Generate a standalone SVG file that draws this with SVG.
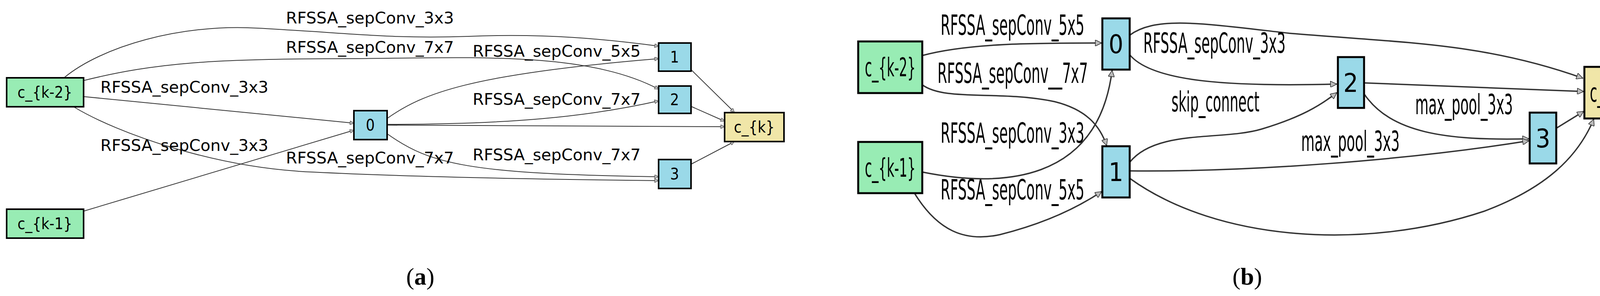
<svg xmlns="http://www.w3.org/2000/svg" width="4198" height="757" viewBox="0 0 4198 757">
<style>
.in{fill:#98ecb4;stroke:#000}
.op{fill:#9ad9e8;stroke:#000}
.out{fill:#f0e6a8;stroke:#000}
.a rect{stroke-width:4}
.b rect{stroke-width:5}
.e path{fill:none;stroke:#333}
.ea path{stroke-width:2}
.eb path{stroke-width:3.5}
.t{font-family:"DejaVu Sans Condensed","DejaVu Sans",sans-serif;fill:#000}
.la{font-size:40px}
.lb{font-size:72px}
.na{font-size:40px;text-anchor:middle}
.nb{font-size:66px;text-anchor:middle}
.cap{font-family:"Liberation Serif",serif;font-size:62px;text-anchor:middle}
</style>
<defs>
<marker id="ar" viewBox="0 0 10 10" refX="10" refY="5" markerWidth="12" markerHeight="10" markerUnits="userSpaceOnUse" orient="auto"><path d="M0,0L10,5L0,10z" fill="#bbb" stroke="#333" stroke-width="1"/></marker>
<marker id="br" viewBox="0 0 10 10" refX="10" refY="5" markerWidth="20" markerHeight="16" markerUnits="userSpaceOnUse" orient="auto"><path d="M0,0L10,5L0,10z" fill="#bbb" stroke="#333" stroke-width="1"/></marker>
</defs>
<rect width="4198" height="757" fill="#fff"/>
<g id="connectors">
<g class="e ea" marker-end="url(#ar)">
<path d="M165,198 C260,120 460,60 660,72 C900,85 1000,100 1200,93 C1400,85 1550,100 1686,118"/>
<path d="M214,206 C400,160 550,150 900,150 C1200,148 1500,130 1686,228"/>
<path d="M214,247 L906,315"/>
<path d="M214,540 L906,333"/>
<path d="M190,274 C300,340 550,430 800,440 C1100,455 1500,460 1686,462"/>
<path d="M991,303 C1080,240 1200,190 1686,150"/>
<path d="M991,318 C1300,318 1500,300 1686,258"/>
<path d="M991,320 L1855,324"/>
<path d="M991,342 C1100,420 1200,445 1686,452"/>
<path d="M1769,178 L1880,287"/>
<path d="M1769,272 L1855,310"/>
<path d="M1769,420 L1880,362"/>
</g>
<g class="e eb" marker-end="url(#br)">
<path d="M2361,142 C2480,110 2650,110 2820,110"/>
<path d="M2361,217 C2420,260 2560,230 2700,260 C2780,280 2815,320 2833,372"/>
<path d="M2361,440 C2560,480 2810,470 2847,180"/>
<path d="M2341,494 C2400,590 2470,620 2560,600 C2680,570 2760,530 2820,490"/>
<path d="M2892,90 C2960,40 3080,60 3300,85 C3600,110 3800,110 4052,200"/>
<path d="M2892,140 C2950,210 3150,222 3422,215"/>
<path d="M3492,212 L4054,234"/>
<path d="M3492,240 C3560,340 3700,360 3914,355"/>
<path d="M2892,415 C2960,330 3130,360 3230,330 C3330,300 3380,270 3422,237"/>
<path d="M2892,437 C3200,440 3600,410 3914,360"/>
<path d="M2892,456 C3120,620 3500,640 3800,540 C3960,480 4040,400 4080,305"/>
<path d="M3984,328 L4054,285"/>
</g>
</g>
<g class="t la">
<text x="732" y="60" textLength="430" lengthAdjust="spacingAndGlyphs">RFSSA_sepConv_3x3</text>
<text x="732" y="135" textLength="430" lengthAdjust="spacingAndGlyphs">RFSSA_sepConv_7x7</text>
<text x="1210" y="145" textLength="430" lengthAdjust="spacingAndGlyphs">RFSSA_sepConv_5x5</text>
<text x="257" y="237" textLength="430" lengthAdjust="spacingAndGlyphs">RFSSA_sepConv_3x3</text>
<text x="1210" y="268" textLength="430" lengthAdjust="spacingAndGlyphs">RFSSA_sepConv_7x7</text>
<text x="257" y="386" textLength="430" lengthAdjust="spacingAndGlyphs">RFSSA_sepConv_3x3</text>
<text x="732" y="418" textLength="430" lengthAdjust="spacingAndGlyphs">RFSSA_sepConv_7x7</text>
<text x="1210" y="410" textLength="430" lengthAdjust="spacingAndGlyphs">RFSSA_sepConv_7x7</text>
</g>
<g class="t lb">
<text x="2408" y="89" textLength="368" lengthAdjust="spacingAndGlyphs">RFSSA_sepConv_5x5</text>
<text x="2400" y="212" textLength="385" lengthAdjust="spacingAndGlyphs">RFSSA_sepConv__7x7</text>
<text x="2927" y="135" textLength="364" lengthAdjust="spacingAndGlyphs">RFSSA_sepConv_3x3</text>
<text x="2999" y="285" textLength="225" lengthAdjust="spacingAndGlyphs">skip_connect</text>
<text x="3623" y="292" textLength="250" lengthAdjust="spacingAndGlyphs">max_pool_3x3</text>
<text x="3331" y="386" textLength="252" lengthAdjust="spacingAndGlyphs">max_pool_3x3</text>
<text x="2408" y="365" textLength="368" lengthAdjust="spacingAndGlyphs">RFSSA_sepConv_3x3</text>
<text x="2408" y="510" textLength="368" lengthAdjust="spacingAndGlyphs">RFSSA_sepConv_5x5</text>
</g>
<g id="a_ck2" class="a"><rect class="in" x="17" y="199" width="197" height="74"/><text class="t na" x="115" y="250">c_{k-2}</text></g>
<g id="a_ck1" class="a"><rect class="in" x="17" y="535" width="197" height="74"/><text class="t na" x="115" y="586">c_{k-1}</text></g>
<g id="a_n0" class="a"><rect class="op" x="906" y="283" width="85" height="74"/><text class="t na" x="948" y="334">0</text></g>
<g id="a_n1" class="a"><rect class="op" x="1686" y="110" width="83" height="72"/><text class="t na" x="1727" y="160">1</text></g>
<g id="a_n2" class="a"><rect class="op" x="1686" y="220" width="83" height="70"/><text class="t na" x="1727" y="269">2</text></g>
<g id="a_n3" class="a"><rect class="op" x="1686" y="408" width="83" height="74"/><text class="t na" x="1727" y="459">3</text></g>
<g id="a_ck" class="a"><rect class="out" x="1855" y="288" width="152" height="74"/><text class="t na" x="1931" y="339">c_{k}</text></g>
<g id="b_ck2" class="b"><rect class="in" x="2197" y="106" width="164" height="132"/><text class="t nb" x="2279" y="195" textLength="130" lengthAdjust="spacingAndGlyphs">c_{k-2}</text></g>
<g id="b_ck1" class="b"><rect class="in" x="2197" y="363" width="164" height="131"/><text class="t nb" x="2279" y="452" textLength="130" lengthAdjust="spacingAndGlyphs">c_{k-1}</text></g>
<g id="b_n0" class="b"><rect class="op" x="2822" y="47" width="70" height="131"/><text class="t nb" x="2857" y="136">0</text></g>
<g id="b_n1" class="b"><rect class="op" x="2822" y="374" width="70" height="131"/><text class="t nb" x="2857" y="463">1</text></g>
<g id="b_n2" class="b"><rect class="op" x="3425" y="146" width="67" height="130"/><text class="t nb" x="3458" y="235">2</text></g>
<g id="b_n3" class="b"><rect class="op" x="3916" y="288" width="68" height="130"/><text class="t nb" x="3950" y="377">3</text></g>
<g id="b_ck" class="b"><rect class="out" x="4056" y="171" width="129" height="132"/><text class="t nb" x="4120" y="260" textLength="100" lengthAdjust="spacingAndGlyphs">c_{k}</text></g>
<text class="cap" x="1076" y="728">(<tspan font-weight="bold">a</tspan>)</text>
<text class="cap" x="3193" y="728">(<tspan font-weight="bold">b</tspan>)</text>
</svg>
